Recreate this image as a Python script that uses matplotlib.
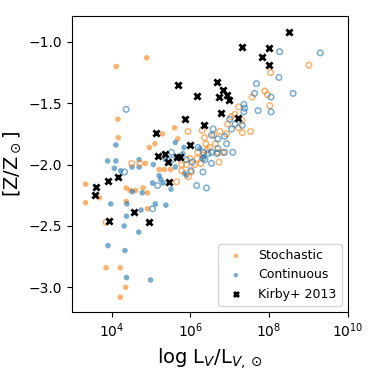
import numpy as np
import matplotlib
matplotlib.use("Agg")
import matplotlib.pyplot as plt
from matplotlib.ticker import NullLocator, FixedLocator

# log10(L_V) and [Z/Zsun] values
stoch_filled_logL = [4.12, 4.89, 4.16, 4.17, 5.60, 5.29, 5.10, 4.96, 5.68, 4.86,
                     3.34, 3.34, 3.69, 4.37, 4.47, 4.61, 4.80, 4.91, 4.37, 4.91,
                     3.86, 4.22, 4.36, 4.22, 5.21, 5.34, 5.50]
stoch_filled_Z = [-1.20, -1.13, -1.63, -1.78, -1.70, -1.75, -1.83, -1.86, -1.79, -1.99,
                  -2.16, -2.31, -2.27, -2.19, -2.21, -2.21, -2.19, -2.23, -2.30, -2.36,
                  -2.84, -2.84, -3.00, -3.08, -2.04, -2.04, -2.04]

stoch_open_logL = [9.01, 8.04, 7.89, 7.96, 7.57, 8.02, 7.31, 7.23, 7.53, 7.32,
                   7.13, 7.22, 6.95, 7.04, 6.30, 6.75, 6.59, 6.64, 6.49, 6.39,
                   6.83, 6.32, 6.73, 6.70, 6.27, 5.94, 6.36, 6.92, 5.65, 5.78,
                   5.90, 5.78, 5.99, 6.17, 6.11, 6.43, 4.51, 4.72, 5.95, 6.03,
                   3.86, 6.19]
stoch_open_Z = [-1.19, -1.25, -1.40, -1.43, -1.45, -1.52, -1.64, -1.53, -1.73, -1.74,
                -1.59, -1.70, -1.67, -1.61, -1.72, -1.73, -1.76, -1.83, -1.86, -1.83,
                -1.90, -1.92, -1.98, -1.90, -1.99, -1.73, -1.78, -1.75, -2.14, -2.00,
                -2.00, -2.05, -1.95, -1.95, -2.00, -1.88, -1.99, -1.99, -2.10, -2.06,
                -2.47, -1.90]

cont_filled_logL = [4.11, 3.90, 4.11, 4.07, 4.23, 4.70, 4.70, 4.52, 5.06, 5.37,
                    5.62, 5.04, 5.21, 5.25, 5.31, 5.51, 5.85, 5.90, 4.53, 4.78,
                    3.98, 4.39, 5.11, 5.38, 4.75, 4.38, 4.32, 4.69, 3.91, 4.34,
                    4.38, 4.99, 5.62, 5.81, 5.84, 6.32, 6.24]
cont_filled_Z = [-1.84, -1.97, -1.97, -2.03, -2.05, -1.96, -2.02, -2.02, -2.00, -1.96,
                 -2.02, -2.15, -2.09, -2.12, -2.15, -2.20, -2.07, -2.09, -2.22, -2.23,
                 -2.32, -2.32, -2.32, -2.33, -2.37, -2.42, -2.50, -2.55, -2.66, -2.70,
                 -2.92, -2.94, -1.82, -1.91, -1.86, -1.94, -1.87]

cont_open_logL = [4.37, 8.27, 9.30, 8.25, 7.68, 8.61, 7.63, 8.05, 7.72, 8.05,
                  7.36, 7.38, 7.36, 7.00, 7.32, 7.14, 7.05, 6.58, 6.54, 6.70,
                  6.70, 6.87, 7.08, 6.45, 6.32, 6.54, 6.32, 6.41, 6.87, 6.68,
                  6.92, 6.34, 6.20, 4.33, 5.04, 6.16, 6.01, 6.05, 6.37, 5.54,
                  5.17, 5.52, 5.90, 6.54]
cont_open_Z = [-1.55, -1.08, -1.09, -1.29, -1.34, -1.42, -1.42, -1.45, -1.56, -1.57,
               -1.51, -1.54, -1.57, -1.63, -1.68, -1.67, -1.71, -1.71, -1.76, -1.79,
               -1.87, -1.90, -1.90, -1.91, -1.95, -1.99, -2.06, -2.19, -1.77, -1.91,
               -1.83, -1.90, -1.86, -2.06, -2.36, -2.17, -2.05, -1.98, -1.96, -1.96,
               -2.17, -1.90, -1.96, -1.90]

kirby_logL = [8.51, 7.30, 8.01, 7.83, 8.00, 6.68, 6.82, 6.92, 6.18, 6.73,
              6.97, 6.78, 5.69, 5.87, 7.21, 6.36, 5.13, 5.99, 5.18, 5.36,
              5.44, 5.65, 5.75, 3.90, 4.16, 3.61, 3.57, 5.45, 4.56, 3.94, 4.94]
kirby_Z = [-0.92, -1.04, -1.05, -1.12, -1.19, -1.33, -1.39, -1.43, -1.44, -1.45,
           -1.47, -1.58, -1.35, -1.63, -1.62, -1.68, -1.74, -1.84, -1.93, -1.91,
           -1.98, -1.94, -1.94, -2.13, -2.10, -2.18, -2.25, -2.14, -2.39, -2.46, -2.47]

xticks = [1e4, 1e6, 1e8, 1e10]
yticks = [-3.0, -2.5, -2.0, -1.5, -1.0]

ORANGE = "#ff7f0e"
BLUE = "#1f77b4"

fig = plt.figure(figsize=(3.74, 3.74), dpi=100)
ax = fig.add_axes([0.193, 0.166, 0.737, 0.791])

def L(v):
    return 10.0 ** np.asarray(v)

ms = 16
ax.scatter(L(stoch_filled_logL), stoch_filled_Z, s=ms, color=ORANGE, alpha=0.6,
           edgecolors="none", label="Stochastic")
ax.scatter(L(cont_filled_logL), cont_filled_Z, s=ms, color=BLUE, alpha=0.6,
           edgecolors="none", label="Continuous")
ax.scatter(L(stoch_open_logL), stoch_open_Z, s=ms, facecolors="none",
           edgecolors=ORANGE, alpha=0.6, linewidths=1.1)
ax.scatter(L(cont_open_logL), cont_open_Z, s=ms, facecolors="none",
           edgecolors=BLUE, alpha=0.6, linewidths=1.1)
ax.scatter(L(kirby_logL), kirby_Z, s=20, marker="x", color="black",
           linewidths=2, label="Kirby+ 2013", zorder=5)

ax.set_xscale("log")
ax.set_xlim(1e3, 1e10)
ax.set_ylim(-3.2, -0.79)
ax.xaxis.set_major_locator(FixedLocator(xticks))
ax.xaxis.set_minor_locator(NullLocator())
ax.set_yticks(yticks)
ax.tick_params(labelsize=10)

ax.set_xlabel(r"log L$_V$/L$_{V,\odot}$", fontsize=14)
ax.set_ylabel(r"[Z/Z$_\odot$]", fontsize=14)

ax.legend(loc="lower right", fontsize=9, markerscale=0.8)

fig.savefig("out.png", dpi=100)
